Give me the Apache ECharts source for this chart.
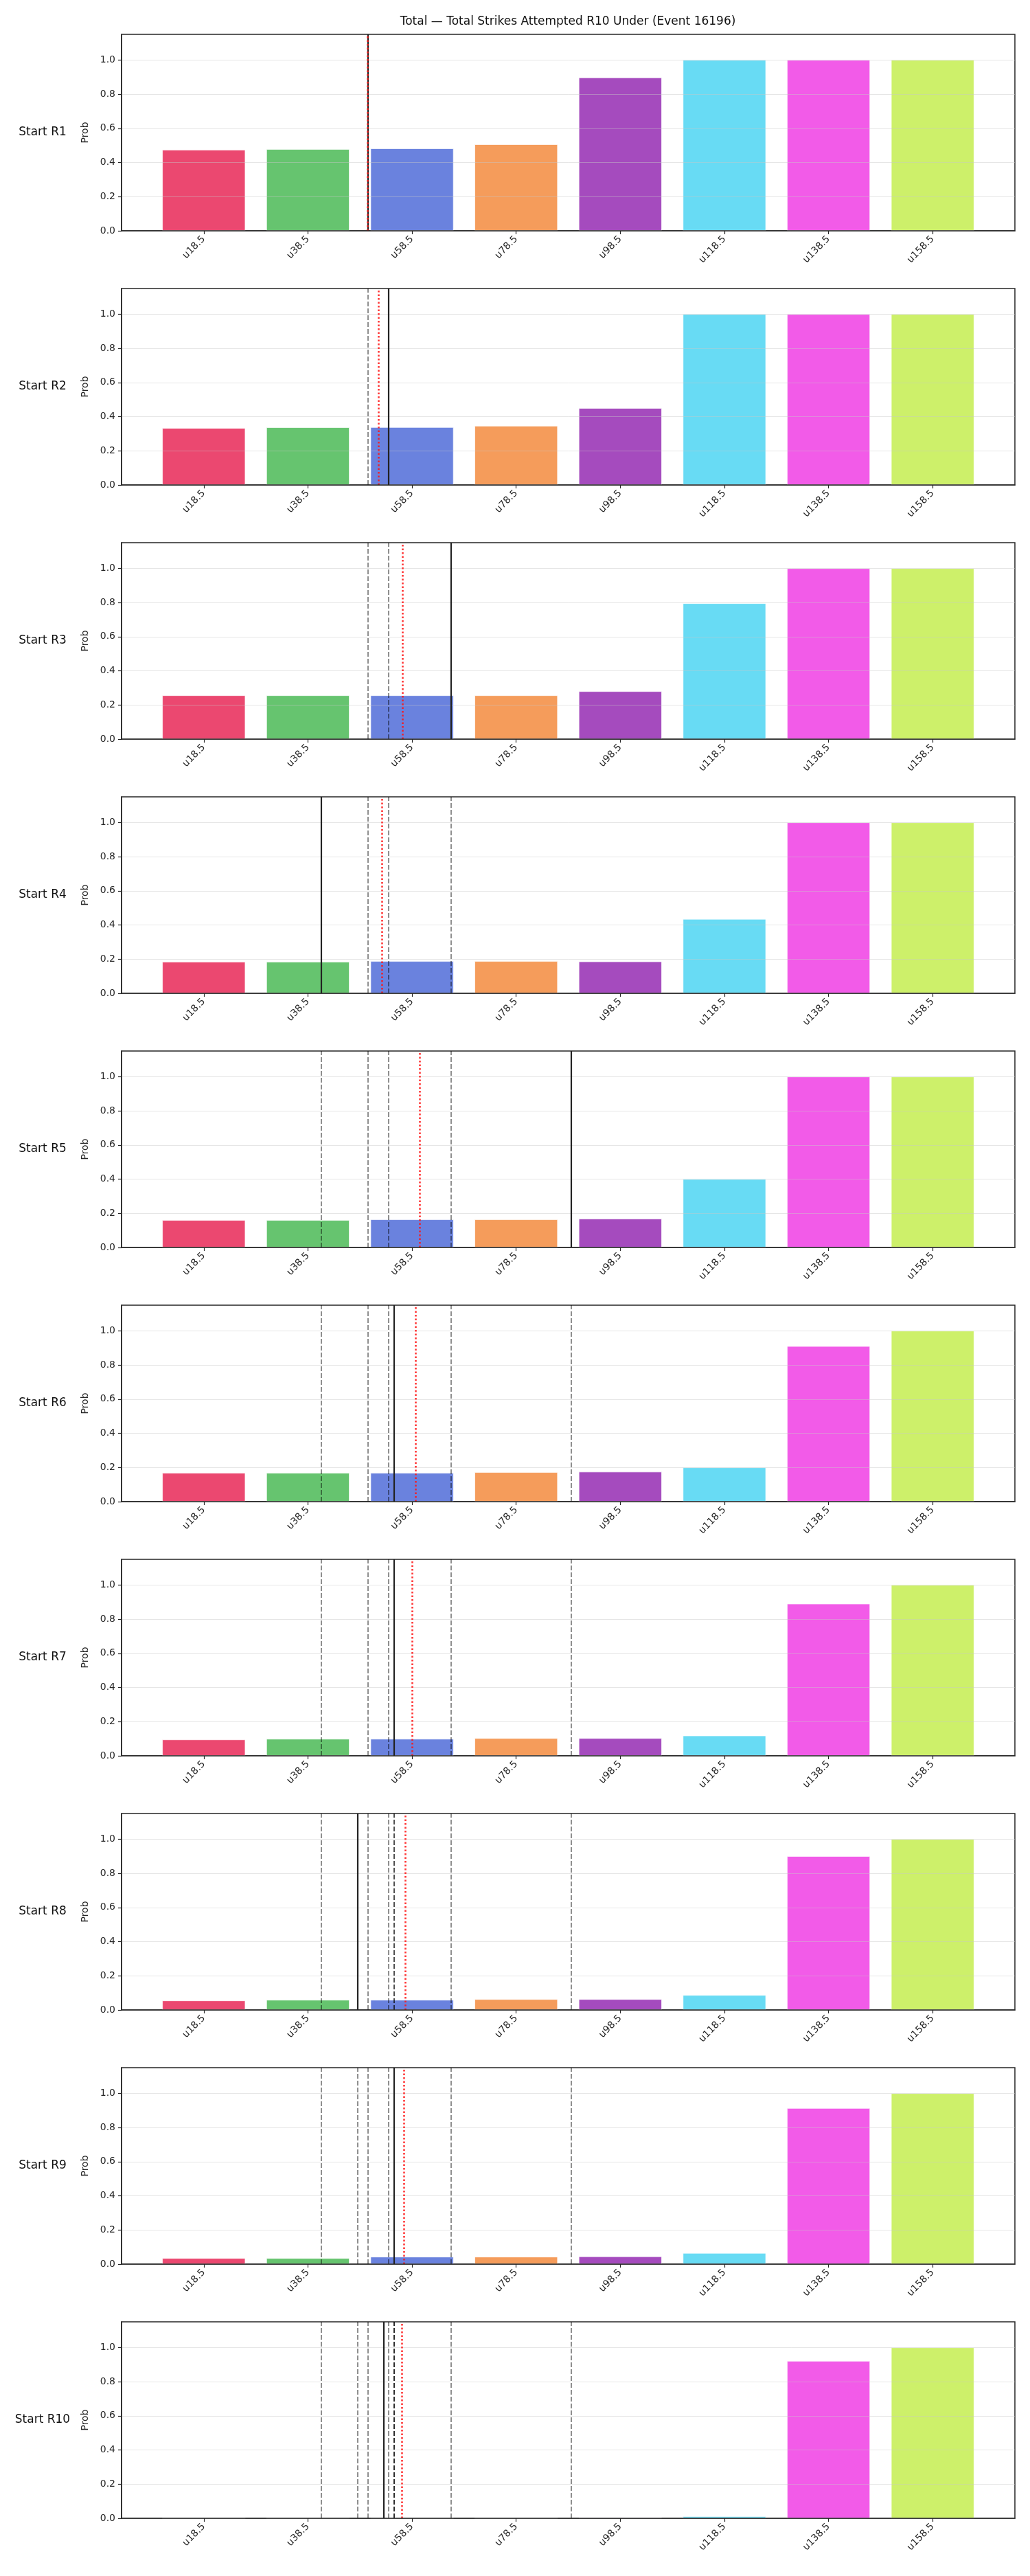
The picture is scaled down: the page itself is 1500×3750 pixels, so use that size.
<!DOCTYPE html>
<html>
<head>
<meta charset="utf-8">
<title>Total Strikes Attempted R10 Under</title>
<script src="https://cdn.jsdelivr.net/npm/echarts@6/dist/echarts.min.js"></script>
<style>
  html, body { margin: 0; padding: 0; background: #fff; }
  #chart { width: 1500px; height: 3750px; }
</style>
</head>
<body>
<div id="chart"></div>
<script>
// ---- data ----
const chartTitle = 'Total \u2014 Total Strikes Attempted R10 Under (Event 16196)';
const categories = ['u18.5', 'u38.5', 'u58.5', 'u78.5', 'u98.5', 'u118.5', 'u138.5', 'u158.5'];
const thresholds = [18.5, 38.5, 58.5, 78.5, 98.5, 118.5, 138.5, 158.5];
const yTicks = [0, 0.2, 0.4, 0.6, 0.8, 1.0];
const roundLabels = ['Start R1', 'Start R2', 'Start R3', 'Start R4', 'Start R5',
  'Start R6', 'Start R7', 'Start R8', 'Start R9', 'Start R10'];

// strikes attempted in each round (solid line; earlier rounds shown dashed)
const roundStrikes = [50, 54, 66, 41, 89, 55, 55, 48, 55, 53];
// running average after each round (red dotted line)
const runningAvg = [50, 52, 56.67, 52.75, 60, 59.17, 58.57, 57.25, 57, 56.6];

const probR1 = [0.474, 0.478, 0.482, 0.506, 0.897, 1.0, 1.0, 1.0];
const probR2 = [0.333, 0.337, 0.338, 0.346, 0.45, 1.0, 1.0, 1.0];
const probR3 = [0.256, 0.256, 0.256, 0.256, 0.28, 0.795, 1.0, 1.0];
const probR4 = [0.184, 0.184, 0.188, 0.188, 0.186, 0.435, 1.0, 1.0];
const probR5 = [0.160, 0.160, 0.164, 0.164, 0.168, 0.40, 1.0, 1.0];
const probR6 = [0.168, 0.168, 0.168, 0.172, 0.175, 0.20, 0.91, 1.0];
const probR7 = [0.095, 0.099, 0.099, 0.103, 0.103, 0.118, 0.89, 1.0];
const probR8 = [0.055, 0.059, 0.059, 0.063, 0.063, 0.087, 0.90, 1.0];
const probR9 = [0.035, 0.035, 0.043, 0.043, 0.045, 0.065, 0.913, 1.0];
const probR10 = [0.0, 0.0, 0.0, 0.0, 0.003, 0.011, 0.921, 1.0];
const roundProbs = [probR1, probR2, probR3, probR4, probR5, probR6, probR7, probR8, probR9, probR10];

const barColors = ['#EB4870', '#66C46F', '#6A82DE', '#F59C5B', '#A54BBE', '#68DBF4', '#F25BE8', '#CDF06A'];

// ---- layout ----
const FONT = '"DejaVu Sans", sans-serif';
const INK = '#262626';
const LEFT = 177, WIDTH = 1301, TOP0 = 50, HEIGHT = 286, STEP = 370;
const X_MIN = 2.7, X_MAX = 174.3; // bar slots 20 apart, matplotlib-style margins

function labelFor(v) {
  const i = thresholds.findIndex(t => Math.abs(t - v) < 1e-6);
  return i >= 0 ? categories[i] : '';
}

const grids = [], xAxes = [], yAxes = [], series = [];
const graphics = [{
  type: 'text', x: 827, y: 32,
  style: { text: chartTitle, fill: '#111', font: '17px ' + FONT, align: 'center', verticalAlign: 'middle' }
}];

roundProbs.forEach((probs, r) => {
  const top = TOP0 + r * STEP;
  grids.push({
    left: LEFT, top: top, width: WIDTH, height: HEIGHT,
    show: true, borderColor: INK, borderWidth: 1.5, backgroundColor: 'transparent'
  });
  xAxes.push({
    gridIndex: r, type: 'value', min: X_MIN, max: X_MAX, z: 6,
    axisLine: { show: true, onZero: false, lineStyle: { color: INK, width: 1.5 } },
    axisTick: { show: true, customValues: thresholds, length: 5, lineStyle: { color: INK, width: 1.2 } },
    axisLabel: {
      show: true, customValues: thresholds, rotate: 45, margin: 10,
      fontSize: 14, fontFamily: FONT, color: INK, formatter: labelFor
    },
    splitLine: { show: false }
  });
  yAxes.push({
    gridIndex: r, type: 'value', min: 0, max: 1.15, interval: 0.2, z: 3,
    name: 'Prob', nameLocation: 'middle', nameGap: 46,
    nameTextStyle: { fontSize: 14, fontFamily: FONT, color: INK },
    axisLine: { show: true, lineStyle: { color: INK, width: 1.5 } },
    axisTick: { show: true, customValues: yTicks, length: 5, lineStyle: { color: INK, width: 1.2 } },
    axisLabel: {
      customValues: yTicks, margin: 9, fontSize: 14, fontFamily: FONT, color: INK,
      formatter: v => v.toFixed(1)
    },
    splitLine: { show: true, lineStyle: { color: 'rgba(200,200,200,0.45)', width: 1 } }
  });

  const lines = roundStrikes.slice(0, r).map(v => ({
    xAxis: v, lineStyle: { color: 'rgba(0,0,0,0.55)', type: [7, 3], width: 1.6 }
  }));
  lines.push({ xAxis: roundStrikes[r], lineStyle: { color: '#222', type: 'solid', width: 2.2 } });
  lines.push({ xAxis: runningAvg[r], lineStyle: { color: 'rgba(255,20,20,0.85)', type: [2.5, 3], width: 2.6 } });

  series.push({
    type: 'bar', xAxisIndex: r, yAxisIndex: r, barWidth: 121,
    data: probs.map((p, i) => ({
      value: [thresholds[i], p],
      itemStyle: { color: barColors[i], borderColor: '#fff', borderWidth: 0.7 }
    })),
    markLine: {
      silent: true, symbol: ['none', 'none'], animation: false,
      label: { show: false }, emphasis: { disabled: true },
      data: lines
    }
  });

  graphics.push({
    type: 'text', x: 62, y: top + HEIGHT / 2,
    style: { text: roundLabels[r], fill: '#111', font: '17px ' + FONT, align: 'center', verticalAlign: 'middle' }
  });
});

const chart = echarts.init(document.getElementById('chart'));
chart.setOption({
  animation: false,
  backgroundColor: '#fff',
  grid: grids,
  xAxis: xAxes,
  yAxis: yAxes,
  series: series,
  graphic: graphics
});
</script>
</body>
</html>
